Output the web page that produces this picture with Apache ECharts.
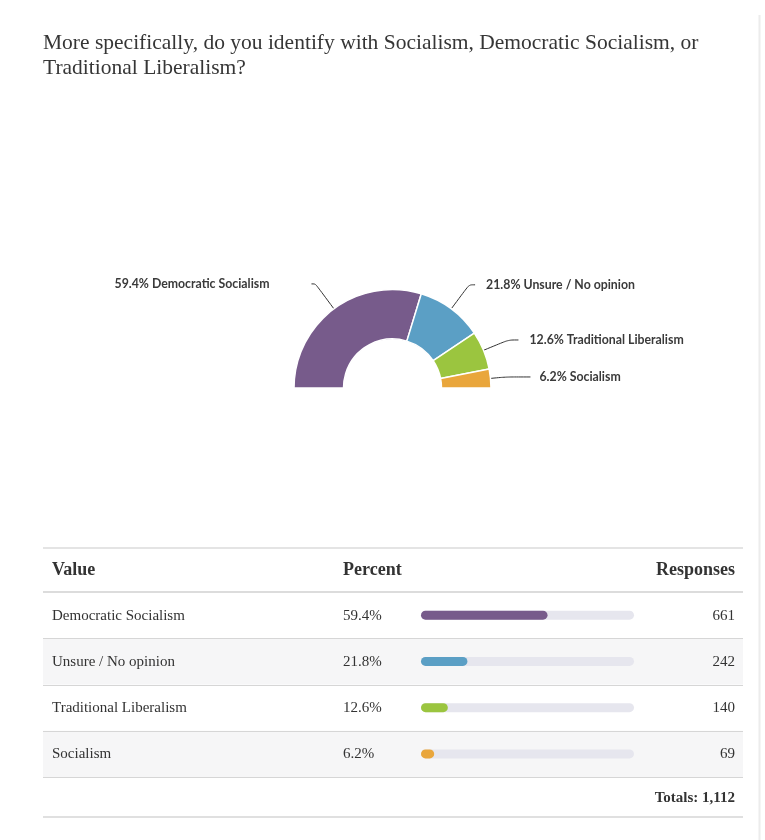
<!DOCTYPE html>
<html>
<head>
<meta charset="utf-8">
<script src="https://cdn.jsdelivr.net/npm/echarts@6/dist/echarts.min.js"></script>
<style>
html,body{margin:0;padding:0;background:#fff;}
#chart{width:765px;height:840px;}
</style>
</head>
<body>
<div id="chart"></div>
<script>
// ---- data ----
var titleLines = ['More specifically, do you identify with Socialism, Democratic Socialism, or', 'Traditional Liberalism?'];
var categories = ['Democratic Socialism', 'Unsure / No opinion', 'Traditional Liberalism', 'Socialism'];
var responses = [661, 242, 140, 69];
var headers = ['Value', 'Percent', 'Responses'];
var colors = ['#775b8b', '#5b9fc5', '#9bc53f', '#e9a63c'];

// ---- styling (label line geometry per slice) ----
var lineLen = [31, 30, 27, 15];
var lineLen2 = [4, 6, 10, 25];
var labelGap = [42, 11, 11, 9];

var total = responses.reduce(function (a, b) { return a + b; }, 0);
var pct = responses.map(function (v) { return Math.round(v / total * 1000) / 10; });
function fmtInt(n) { return String(n).replace(/\B(?=(\d{3})+(?!\d))/g, ','); }

var chart = echarts.init(document.getElementById('chart'), null, { renderer: 'canvas' });

// table geometry
var tblL = 43, tblR = 743;
var headTop = 548, headBot = 592, rowH = 46.25;
var serif = '"Liberation Serif", "Times New Roman", serif';
var g = [];
// right edge line
g.push({ type: 'line', shape: { x1: 759.5, y1: 15, x2: 759.5, y2: 840 }, style: { stroke: '#ececec', lineWidth: 2 }, silent: true });
// row backgrounds
categories.forEach(function (c, i) {
  var top = headBot + i * rowH;
  if (i % 2 === 1) {
    g.push({ type: 'rect', shape: { x: tblL, y: top, width: tblR - tblL, height: rowH }, style: { fill: '#f6f6f7' }, z: 0, silent: true });
  }
});
// lines
g.push({ type: 'line', shape: { x1: tblL, y1: headTop, x2: tblR, y2: headTop }, style: { stroke: '#e4e4e4', lineWidth: 2 }, z: 1 });
g.push({ type: 'line', shape: { x1: tblL, y1: headBot, x2: tblR, y2: headBot }, style: { stroke: '#dcdcdc', lineWidth: 2 }, z: 1 });
for (var i = 1; i <= categories.length; i++) {
  var y = Math.round(headBot + i * rowH) + 0.5;
  g.push({ type: 'line', shape: { x1: tblL, y1: y, x2: tblR, y2: y }, style: { stroke: '#d6d6d6', lineWidth: 1 }, z: 1 });
}
var totBot = headBot + categories.length * rowH + 40;
g.push({ type: 'line', shape: { x1: tblL, y1: totBot, x2: tblR, y2: totBot }, style: { stroke: '#e0e0e0', lineWidth: 2 }, z: 1 });

// header text
var hy = (headTop + headBot) / 2;
g.push({ type: 'text', x: 52, y: hy, style: { text: headers[0], font: 'bold 18px ' + serif, fill: '#333', verticalAlign: 'middle', align: 'left' }, z: 2 });
g.push({ type: 'text', x: 343, y: hy, style: { text: headers[1], font: 'bold 18px ' + serif, fill: '#333', verticalAlign: 'middle', align: 'left' }, z: 2 });
g.push({ type: 'text', x: 735, y: hy, style: { text: headers[2], font: 'bold 18px ' + serif, fill: '#333', verticalAlign: 'middle', align: 'right' }, z: 2 });
// row text
categories.forEach(function (c, i) {
  var cy = headBot + i * rowH + rowH / 2 + 0.5;
  g.push({ type: 'text', x: 52, y: cy, style: { text: c, font: '15px ' + serif, fill: '#333', verticalAlign: 'middle', align: 'left' }, z: 2 });
  g.push({ type: 'text', x: 343, y: cy, style: { text: pct[i].toFixed(1) + '%', font: '15px ' + serif, fill: '#333', verticalAlign: 'middle', align: 'left' }, z: 2 });
  g.push({ type: 'text', x: 735, y: cy, style: { text: String(responses[i]), font: '15px ' + serif, fill: '#333', verticalAlign: 'middle', align: 'right' }, z: 2 });
});
g.push({ type: 'text', x: 735, y: headBot + categories.length * rowH + 21, style: { text: 'Totals: ' + fmtInt(total), font: 'bold 15px ' + serif, fill: '#333', verticalAlign: 'middle', align: 'right' }, z: 2 });
// title
titleLines.forEach(function (t, i) {
  g.push({ type: 'text', x: 43, y: 43 + i * 25, style: { text: t, font: '21.5px ' + serif, fill: '#363636', verticalAlign: 'middle', align: 'left' }, z: 2 });
});

var pieData = categories.map(function (c, i) {
  return {
    name: c, value: responses[i],
    itemStyle: { color: colors[i] },
    label: { distanceToLabelLine: labelGap[i] },
    labelLine: { length: lineLen[i], length2: lineLen2[i] }
  };
});

var option = {
  backgroundColor: '#ffffff',
  animation: false,
  graphic: g,
  grid: { left: 421, width: 213, top: headBot, height: rowH * categories.length },
  xAxis: { type: 'value', min: 0, max: 100, show: false },
  yAxis: { type: 'category', data: categories, inverse: true, show: false },
  series: [
    {
      type: 'pie',
      center: [392.5, 388],
      radius: [49, 98.5],
      startAngle: 180,
      endAngle: 0,
      clockwise: true,
      avoidLabelOverlap: false,
      itemStyle: { borderColor: '#ffffff', borderWidth: 1.5 },
      label: {
        show: true,
        position: 'outside',
        formatter: function (p) { return pct[p.dataIndex].toFixed(1) + '% ' + p.name; },
        fontFamily: 'Lato, "Noto Sans", sans-serif',
        fontWeight: 'bold',
        fontSize: 12.3,
        color: '#3a3a3a'
      },
      labelLine: { show: true, smooth: 0.3, lineStyle: { color: '#333', width: 1 } },
      data: pieData
    },
    {
      type: 'bar',
      data: pct.map(function (v, i) { return { value: v, itemStyle: { color: colors[i] } }; }),
      barWidth: 9,
      showBackground: true,
      backgroundStyle: { color: '#e6e6ee', borderRadius: 5 },
      itemStyle: { borderRadius: 5 },
      silent: true
    }
  ]
};
chart.setOption(option);
</script>
</body>
</html>
